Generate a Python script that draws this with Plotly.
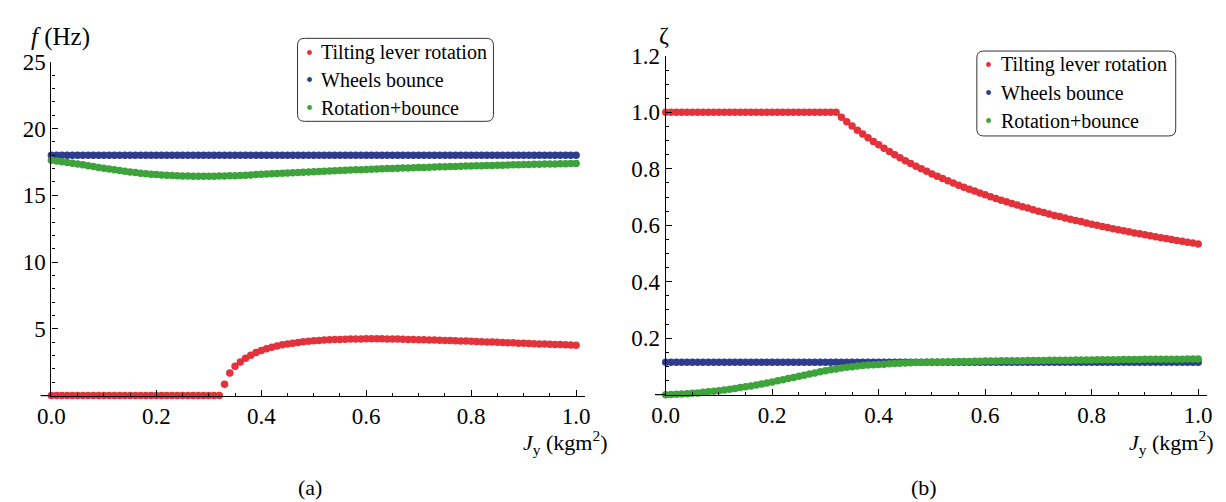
import plotly.graph_objects as go

W, H = 1226, 502

# ---------------- data ----------------
jy = [round(0.01 * i, 2) for i in range(101)]

f_tilt = [0.0] * 33 + [
    0.85, 1.70, 2.20, 2.52, 2.80, 3.02, 3.22, 3.38, 3.51, 3.62,
    3.72, 3.80, 3.87, 3.93, 3.98, 4.03, 4.07, 4.10, 4.13, 4.16,
    4.18, 4.20, 4.21, 4.22, 4.23, 4.24, 4.24, 4.25, 4.25, 4.25,
    4.25, 4.24, 4.24, 4.23, 4.22, 4.21, 4.20, 4.19, 4.18, 4.17,
    4.16, 4.15, 4.13, 4.12, 4.11, 4.09, 4.08, 4.07, 4.05, 4.04,
    4.02, 4.01, 3.99, 3.98, 3.96, 3.95, 3.93, 3.92, 3.90, 3.89,
    3.87, 3.86, 3.84, 3.83, 3.82, 3.80, 3.79, 3.78]

f_wheels = [18.0] * 101

f_both = [
    17.62, 17.57, 17.52, 17.46, 17.40, 17.34, 17.28, 17.21, 17.15, 17.09,
    17.03, 16.97, 16.91, 16.85, 16.80, 16.75, 16.70, 16.66, 16.62, 16.58,
    16.55, 16.52, 16.50, 16.48, 16.46, 16.45, 16.44, 16.43, 16.43, 16.43,
    16.43, 16.43, 16.44, 16.45, 16.46, 16.47, 16.49, 16.51, 16.53, 16.55,
    16.57, 16.59, 16.61, 16.63, 16.65, 16.67, 16.69, 16.71, 16.73, 16.75,
    16.77, 16.79, 16.81, 16.82, 16.84, 16.86, 16.88, 16.89, 16.91, 16.92,
    16.94, 16.95, 16.97, 16.98, 17.00, 17.01, 17.03, 17.04, 17.05, 17.07,
    17.08, 17.09, 17.10, 17.12, 17.13, 17.14, 17.15, 17.16, 17.18, 17.19,
    17.20, 17.21, 17.22, 17.23, 17.24, 17.25, 17.26, 17.27, 17.28, 17.29,
    17.30, 17.31, 17.32, 17.33, 17.34, 17.35, 17.35, 17.36, 17.37, 17.38,
    17.39]

z_tilt = [1.0] * 33 + [
    0.983, 0.967, 0.952, 0.937, 0.923, 0.910, 0.897, 0.885, 0.873, 0.861,
    0.850, 0.839, 0.829, 0.819, 0.809, 0.800, 0.791, 0.782, 0.774, 0.766,
    0.758, 0.750, 0.742, 0.735, 0.728, 0.721, 0.714, 0.708, 0.701, 0.695,
    0.689, 0.683, 0.677, 0.672, 0.666, 0.661, 0.655, 0.650, 0.645, 0.640,
    0.635, 0.631, 0.626, 0.621, 0.617, 0.613, 0.608, 0.604, 0.600, 0.596,
    0.592, 0.588, 0.584, 0.581, 0.577, 0.573, 0.570, 0.566, 0.563, 0.559,
    0.556, 0.553, 0.550, 0.546, 0.543, 0.540, 0.537, 0.534]

z_wheels = [0.115] * 101

z_both = [
    0.0000, 0.0003, 0.0010, 0.0020, 0.0030, 0.0045, 0.0060, 0.0080, 0.0100, 0.0120,
    0.0140, 0.0165, 0.0190, 0.0220, 0.0250, 0.0280, 0.0310, 0.0340, 0.0380, 0.0410,
    0.0450, 0.0490, 0.0530, 0.0570, 0.0610, 0.0650, 0.0690, 0.0730, 0.0770, 0.0810,
    0.0850, 0.0880, 0.0910, 0.0940, 0.0970, 0.0990, 0.1010, 0.1030, 0.1050, 0.1060,
    0.1070, 0.1080, 0.1090, 0.1100, 0.1110, 0.1120, 0.1130, 0.1135, 0.1140, 0.1148,
    0.1152, 0.1156, 0.1160, 0.1163, 0.1166, 0.1170, 0.1174, 0.1178, 0.1182, 0.1186,
    0.1190, 0.1192, 0.1194, 0.1196, 0.1198, 0.1200, 0.1202, 0.1204, 0.1206, 0.1208,
    0.1210, 0.1212, 0.1214, 0.1216, 0.1218, 0.1220, 0.1222, 0.1224, 0.1226, 0.1228,
    0.1230, 0.1232, 0.1234, 0.1236, 0.1238, 0.1240, 0.1242, 0.1244, 0.1246, 0.1248,
    0.1250, 0.1251, 0.1252, 0.1253, 0.1254, 0.1255, 0.1256, 0.1257, 0.1258, 0.1259,
    0.1260]

names = ["Tilting lever rotation", "Wheels bounce", "Rotation+bounce"]
colors = ["#E3323A", "#2E3C8E", "#3DA33A"]

x_ticks = [0.0, 0.2, 0.4, 0.6, 0.8, 1.0]
x_ticktext = ["0.0", "0.2", "0.4", "0.6", "0.8", "1.0"]
f_ticks = [5, 10, 15, 20, 25]
f_ticktext = ["5", "10", "15", "20", "25"]
z_ticks = [0.2, 0.4, 0.6, 0.8, 1.0, 1.2]
z_ticktext = ["0.2", "0.4", "0.6", "0.8", "1.0", "1.2"]

# ---------------- layout helpers ----------------
FONT = "Liberation Serif, Times New Roman, DejaVu Serif, serif"
def px_x(p):
    return p / W
def px_y(p):
    return (H - p) / H

fig = go.Figure()

for ys, nm, c in zip([f_tilt, f_wheels, f_both], names, colors):
    fig.add_trace(go.Scatter(x=jy, y=ys, mode="markers", name=nm,
                             marker=dict(size=7.5, color=c, line=dict(width=0)),
                             cliponaxis=False, xaxis="x", yaxis="y",
                             showlegend=False))
for ys, nm, c in zip([z_tilt, z_wheels, z_both], names, colors):
    fig.add_trace(go.Scatter(x=jy, y=ys, mode="markers", name=nm,
                             marker=dict(size=7.5, color=c, line=dict(width=0)),
                             cliponaxis=False, xaxis="x2", yaxis="y2",
                             showlegend=False))

axis_common = dict(showgrid=False, zeroline=False, showline=True,
                   linecolor="black", linewidth=1.2, ticks="inside",
                   ticklen=6, tickwidth=1, tickcolor="black",
                   tickfont=dict(family=FONT, size=23, color="black"))

L_x0, L_x1 = 38, 580
R_x0, R_x1 = 662, 1212
L_ybot, L_ytop = 393, 51
R_ybot, R_ytop = 392, 45

fig.update_layout(
    width=W, height=H,
    margin=dict(l=0, r=0, t=0, b=0),
    paper_bgcolor="white", plot_bgcolor="white",
    showlegend=False,
    xaxis=dict(domain=[px_x(L_x0), px_x(L_x1)], range=[0, 1.017], anchor="y",
               tickvals=x_ticks, ticktext=x_ticktext,
               minor=dict(dtick=0.05, ticks="inside", ticklen=3, tickcolor="black"),
               **axis_common),
    yaxis=dict(domain=[px_y(L_ybot), px_y(L_ytop)], range=[0, 25], anchor="x",
               tickvals=f_ticks, ticktext=f_ticktext,
               minor=dict(dtick=1, ticks="inside", ticklen=3, tickcolor="black"),
               **axis_common),
    xaxis2=dict(domain=[px_x(R_x0), px_x(R_x1)], range=[0, 1.017], anchor="y2",
                tickvals=x_ticks, ticktext=x_ticktext,
                minor=dict(dtick=0.05, ticks="inside", ticklen=3, tickcolor="black"),
                **axis_common),
    yaxis2=dict(domain=[px_y(R_ybot), px_y(R_ytop)], range=[0, 1.2], anchor="x2",
                tickvals=z_ticks, ticktext=z_ticktext,
                minor=dict(dtick=0.05, ticks="inside", ticklen=3, tickcolor="black"),
                **axis_common),
)

def rounded_rect(x0, y0, x1, y1, r):
    X = lambda p: px_x(p)
    Y = lambda p: px_y(p)
    return (f"M {X(x0 + r)} {Y(y0)} L {X(x1 - r)} {Y(y0)} "
            f"Q {X(x1)} {Y(y0)} {X(x1)} {Y(y0 + r)} L {X(x1)} {Y(y1 - r)} "
            f"Q {X(x1)} {Y(y1)} {X(x1 - r)} {Y(y1)} L {X(x0 + r)} {Y(y1)} "
            f"Q {X(x0)} {Y(y1)} {X(x0)} {Y(y1 - r)} L {X(x0)} {Y(y0 + r)} "
            f"Q {X(x0)} {Y(y0)} {X(x0 + r)} {Y(y0)} Z")

shapes = [
    dict(type="path", xref="paper", yref="paper",
         path=rounded_rect(288, 27, 487, 112, 7),
         line=dict(color="#333", width=1)),
    dict(type="path", xref="paper", yref="paper",
         path=rounded_rect(978, 40, 1180, 127, 7),
         line=dict(color="#333", width=1)),
    # short extension of the horizontal axis left of the origin (Mathematica style)
    dict(type="line", xref="paper", yref="paper",
         x0=px_x(27), x1=px_x(L_x0), y0=px_y(L_ybot), y1=px_y(L_ybot),
         line=dict(color="black", width=1.2)),
    dict(type="line", xref="paper", yref="paper",
         x0=px_x(651), x1=px_x(R_x0), y0=px_y(R_ybot), y1=px_y(R_ybot),
         line=dict(color="black", width=1.2)),
]
fig.update_layout(shapes=shapes)

def ann(text, x, y, size, xanchor="center", color="black"):
    return dict(text=text, x=px_x(x), y=px_y(y), xref="paper", yref="paper",
                xanchor=xanchor, yanchor="middle", showarrow=False,
                font=dict(family=FONT, size=size, color=color))

annotations = [
    ann("<i>f</i> (Hz)", 15, 26, 25, xanchor="left"),
    ann("ζ", 660, 24, 24),
    ann("<i>J</i><sub>y</sub> (kgm<sup>2</sup>)", 604, 441, 22, xanchor="right"),
    ann("<i>J</i><sub>y</sub> (kgm<sup>2</sup>)", 1220, 441, 22, xanchor="right"),
    ann("(a)", 301, 487, 22),
    ann("(b)", 924, 487, 22),
]

# legend entries (bullet + label) inside the rounded boxes
leg_left = (300, 310, [42, 70, 98])
leg_right = (990, 1000, [54, 83, 112])
for bx, tx, rows in (leg_left, leg_right):
    for nm, c, ry in zip(names, colors, rows):
        annotations.append(ann("•", bx, ry, 20, color=c))
        annotations.append(ann(nm, tx, ry, 20, xanchor="left"))

fig.update_layout(annotations=annotations)

fig.write_html("out.html")
